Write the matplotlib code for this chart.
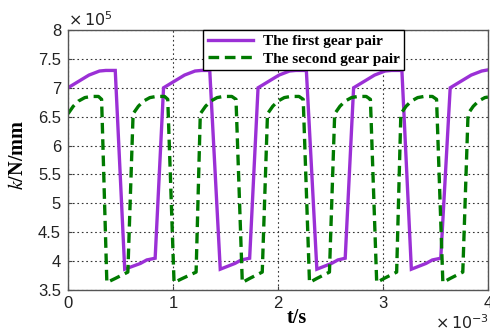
import matplotlib
matplotlib.use("Agg")
import matplotlib.pyplot as plt
from matplotlib.lines import Line2D

# time in units of 1e-3 s, stiffness in units of 1e5 N/mm
t_first = [0.00, 0.10, 0.20, 0.30, 0.36, 0.45, 0.54, 0.69, 0.75, 0.83,
           0.91, 1.01, 1.11, 1.21, 1.27, 1.35, 1.45, 1.59, 1.65, 1.73,
           1.81, 1.91, 2.01, 2.11, 2.17, 2.27, 2.37, 2.51, 2.57, 2.64,
           2.72, 2.82, 2.92, 3.02, 3.08, 3.18, 3.27, 3.41, 3.47, 3.55,
           3.64, 3.74, 3.84, 3.94, 4.00]
k_first = [7.00, 7.11, 7.22, 7.29, 7.30, 7.30, 3.86, 3.96, 4.02, 4.05,
           7.00, 7.11, 7.22, 7.29, 7.30, 7.30, 3.86, 3.96, 4.02, 4.05,
           7.00, 7.11, 7.22, 7.29, 7.30, 7.30, 3.86, 3.96, 4.02, 4.05,
           7.00, 7.11, 7.22, 7.29, 7.30, 7.30, 3.86, 3.96, 4.02, 4.05,
           7.00, 7.11, 7.22, 7.29, 7.31]

t_second = [0.00, 0.05, 0.10, 0.16, 0.22, 0.29, 0.32, 0.37, 0.45, 0.57,
            0.62, 0.67, 0.72, 0.78, 0.84, 0.92, 0.95, 1.01, 1.09, 1.22,
            1.26, 1.31, 1.36, 1.42, 1.48, 1.56, 1.60, 1.66, 1.73, 1.85,
            1.90, 1.95, 2.00, 2.06, 2.12, 2.20, 2.24, 2.30, 2.37, 2.49,
            2.54, 2.59, 2.64, 2.70, 2.76, 2.84, 2.88, 2.94, 3.01, 3.13,
            3.17, 3.22, 3.27, 3.33, 3.39, 3.47, 3.51, 3.57, 3.64, 3.76,
            3.81, 3.86, 3.91, 3.97, 4.00]
k_second = [6.55, 6.68, 6.77, 6.83, 6.85, 6.85, 6.80, 3.63, 3.70, 3.81,
            6.55, 6.68, 6.77, 6.83, 6.85, 6.85, 6.80, 3.63, 3.70, 3.81,
            6.55, 6.68, 6.77, 6.83, 6.85, 6.85, 6.80, 3.63, 3.70, 3.81,
            6.55, 6.68, 6.77, 6.83, 6.85, 6.85, 6.80, 3.63, 3.70, 3.81,
            6.55, 6.68, 6.77, 6.83, 6.85, 6.85, 6.80, 3.63, 3.70, 3.81,
            6.55, 6.68, 6.77, 6.83, 6.85, 6.85, 6.80, 3.63, 3.70, 3.81,
            6.55, 6.68, 6.77, 6.83, 6.84]

x_ticks = [0, 1, 2, 3, 4]
x_ticklabels = ["0", "1", "2", "3", "4"]
y_ticks = [3.5, 4, 4.5, 5, 5.5, 6, 6.5, 7, 7.5, 8]
y_ticklabels = ["3.5", "4", "4.5", "5", "5.5", "6", "6.5", "7", "7.5", "8"]
legend_labels = ["The first gear pair", "The second gear pair"]

purple = "#9b30d6"
green = "#007a00"
sans = ["Liberation Sans", "DejaVu Sans"]
serif = ["Liberation Serif", "DejaVu Serif"]

fig = plt.figure(figsize=(4.9, 3.31), dpi=100)
ax = fig.add_axes([68/490, 1-290/331, 420/490, 260/331])

ax.plot(t_first, k_first, color=purple, lw=2.4, solid_joinstyle="miter")
ax.plot(t_second, k_second, color=green, lw=2.4, ls=(0, (3.2, 1.7)))

ax.set_xlim(0, 4)
ax.set_ylim(3.5, 8)
ax.set_xticks(x_ticks)
ax.set_xticklabels(x_ticklabels)
ax.set_yticks(y_ticks)
ax.set_yticklabels(y_ticklabels)
for lab in ax.get_xticklabels() + ax.get_yticklabels():
    lab.set_family(sans)
    lab.set_fontsize(12)
    lab.set_color("#222222")
ax.tick_params(direction="in", length=3, color="#444444", width=0.8, pad=4)
ax.tick_params(axis="y", pad=5)
ax.grid(True, ls=(0, (1.5, 2.5)), color="#333333", lw=0.8)
for s in ax.spines.values():
    s.set_color("#555555")
    s.set_linewidth(1.0)

fig.text(68/490, 1-20/331, r"$\times\,10^{5}$", family=sans, fontsize=11.5,
         ha="left", va="center", color="#222222", math_fontfamily="dejavusans")
fig.text(489/490, 1-323/331, r"$\times\,10^{-3}$", family=sans, fontsize=11.5,
         ha="right", va="center", color="#222222", math_fontfamily="dejavusans")

fig.text(297/490, 1-318/331, "t/s", family=serif, fontsize=14.5, fontweight="bold",
         ha="center", va="center")
fig.text(18/490, 1-155/331, r"$\mathit{k}$/N/mm", family=serif, fontsize=14.5,
         fontweight="bold", rotation=90, ha="center", va="center",
         math_fontfamily="stix")

handles = [Line2D([], [], color=purple, lw=2.4),
           Line2D([], [], color=green, lw=2.4, ls=(0, (3.2, 1.7)))]
leg = ax.legend(handles, legend_labels, loc="upper left",
                bbox_to_anchor=((203-68)/420, 1.0), frameon=True,
                fancybox=False, framealpha=1, edgecolor="black",
                borderpad=0.3, handlelength=3.0, handletextpad=0.6,
                labelspacing=0.25, borderaxespad=0,
                prop={"family": serif, "weight": "bold", "size": 11})
leg.get_frame().set_linewidth(1.0)

fig.savefig("out.png", dpi=100)
